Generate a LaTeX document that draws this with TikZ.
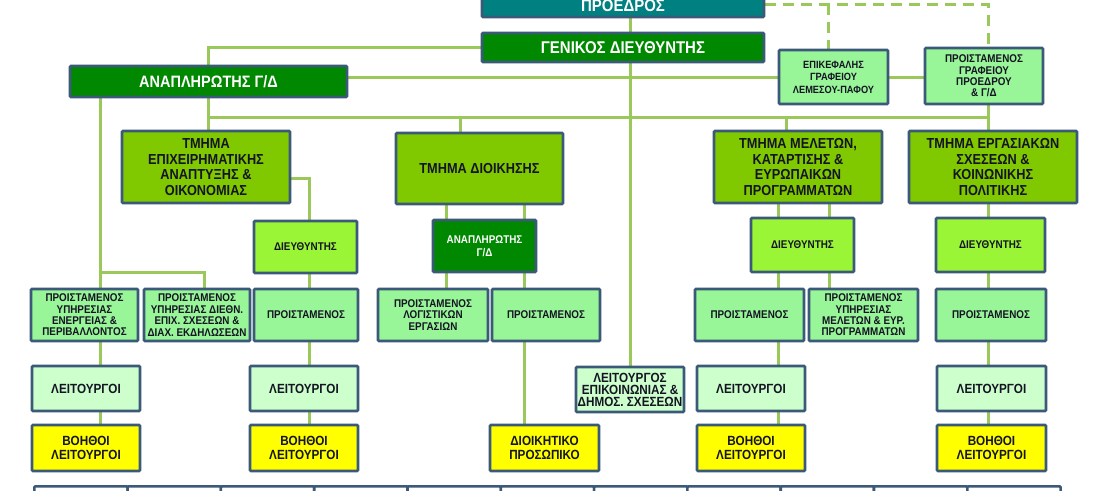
\documentclass[tikz,border=0pt]{standalone}
\usepackage{fontspec}
\setmainfont{Liberation Sans}[FakeStretch=0.88]
\usetikzlibrary{backgrounds}
\definecolor{bord}{RGB}{59,89,120}
\definecolor{lnk}{RGB}{155,200,90}
\definecolor{cpres}{RGB}{0,128,128}
\definecolor{cdark}{RGB}{0,136,0}
\definecolor{cdept}{RGB}{128,200,0}
\definecolor{cdir}{RGB}{155,245,55}
\definecolor{clight}{RGB}{152,245,152}
\definecolor{cpale}{RGB}{204,255,204}
\definecolor{cyel}{RGB}{255,255,0}
\definecolor{txt}{RGB}{20,20,35}
\newcommand{\setfs}[2]{\fontsize{#1}{#2}\selectfont}
\newcommand{\bxat}[7]{\node[bx,#6,minimum width={(#4)-(#2)},minimum height={(#5)-(#3)}] (#1) at ({((#2)+(#4))/2},{((#3)+(#5))/2}) {#7};}
\tikzset{
  bx/.style={draw=bord, line width=2.6pt, rounded corners=1pt, inner sep=0pt, align=center, text=txt},
  fpres/.style={fill=cpres, text=white, font=\setfs{17}{18}\bfseries},
  fgd/.style={fill=cdark, text=white, font=\setfs{17}{18}\bfseries},
  fan/.style={fill=cdark, text=white, font=\setfs{16.5}{18}\bfseries},
  fan2/.style={fill=cdark, text=white, font=\setfs{11.2}{12.7}\bfseries},
  fdept/.style={fill=cdept, font=\setfs{14.5}{15.5}\bfseries},
  fdir/.style={fill=cdir, font=\setfs{11.2}{11.6}\bfseries},
  flight/.style={fill=clight, font=\setfs{11.2}{11.4}\bfseries},
  fep/.style={fill=clight, font=\setfs{10.5}{12.5}\bfseries},
  fpale/.style={fill=cpale, font=\setfs{13.3}{14.6}\bfseries},
  flep/.style={fill=cpale, font=\setfs{13.3}{12}\bfseries},
  fyel/.style={fill=cyel, font=\setfs{13.3}{14.6}\bfseries},
  conn/.style={draw=lnk, line width=3pt},
  dashconn/.style={conn, dash pattern=on 11pt off 7pt},
}
\begin{document}
\begin{tikzpicture}[x=1pt,y=-1pt]
\useasboundingbox (0,0) rectangle (1100,490);
\clip (0,0) rectangle (1100,490);
% top
\bxat{pr}{482}{-6}{764}{17}{fpres}{ΠΡΟΕΔΡΟΣ}
\bxat{gd}{482}{33}{764}{62}{fgd}{ΓΕΝΙΚΟΣ ΔΙΕΥΘΥΝΤΗΣ}
\bxat{an1}{70}{66}{347}{97}{fan}{ΑΝΑΠΛΗΡΩΤΗΣ Γ/Δ}
\bxat{ep}{779}{50}{888}{104}{fep}{ΕΠΙΚΕΦΑΛΗΣ\\ΓΡΑΦΕΙΟΥ\\ΛΕΜΕΣΟΥ-ΠΑΦΟΥ}
\bxat{pgr}{925}{48}{1043}{104}{flight}{ΠΡΟΙΣΤΑΜΕΝΟΣ\\ΓΡΑΦΕΙΟΥ\\ΠΡΟΕΔΡΟΥ\\\& Γ/Δ}
% departments
\bxat{tm1}{122}{131}{290}{203}{fdept}{ΤΜΗΜΑ\\ΕΠΙΧΕΙΡΗΜΑΤΙΚΗΣ\\ΑΝΑΠΤΥΞΗΣ \&\\ΟΙΚΟΝΟΜΙΑΣ}
\bxat{tm2}{396}{133}{563}{204}{fdept}{ΤΜΗΜΑ ΔΙΟΙΚΗΣΗΣ}
\bxat{tm3}{714}{131}{882}{203}{fdept}{ΤΜΗΜΑ ΜΕΛΕΤΩΝ,\\ΚΑΤΑΡΤΙΣΗΣ \&\\ΕΥΡΩΠΑΙΚΩΝ\\ΠΡΟΓΡΑΜΜΑΤΩΝ}
\bxat{tm4}{909}{131}{1077}{203}{fdept}{ΤΜΗΜΑ ΕΡΓΑΣΙΑΚΩΝ\\ΣΧΕΣΕΩΝ \&\\ΚΟΙΝΩΝΙΚΗΣ\\ΠΟΛΙΤΙΚΗΣ}
% directors
\bxat{d1}{254}{221}{357}{273}{fdir}{ΔΙΕΥΘΥΝΤΗΣ}
\bxat{an2}{433}{220}{536}{272}{fan2}{ΑΝΑΠΛΗΡΩΤΗΣ\\Γ/Δ}
\bxat{d3}{751}{218}{854}{272}{fdir}{ΔΙΕΥΘΥΝΤΗΣ}
\bxat{d4}{936}{218}{1045}{272}{fdir}{ΔΙΕΥΘΥΝΤΗΣ}
% heads
\bxat{pe}{31}{289}{138}{341}{flight}{ΠΡΟΙΣΤΑΜΕΝΟΣ\\ΥΠΗΡΕΣΙΑΣ\\ΕΝΕΡΓΕΙΑΣ \&\\ΠΕΡΙΒΑΛΛΟΝΤΟΣ}
\bxat{pd}{144}{289}{250}{341}{flight}{ΠΡΟΙΣΤΑΜΕΝΟΣ\\ΥΠΗΡΕΣΙΑΣ ΔΙΕΘΝ.\\ΕΠΙΧ. ΣΧΕΣΕΩΝ \&\\ΔΙΑΧ. ΕΚΔΗΛΩΣΕΩΝ}
\bxat{p1}{254}{289}{358}{341}{flight}{ΠΡΟΙΣΤΑΜΕΝΟΣ}
\bxat{pl}{378}{289}{488}{341}{flight}{ΠΡΟΙΣΤΑΜΕΝΟΣ\\ΛΟΓΙΣΤΙΚΩΝ\\ΕΡΓΑΣΙΩΝ}
\bxat{pm}{492}{289}{600}{341}{flight}{ΠΡΟΙΣΤΑΜΕΝΟΣ}
\bxat{p3}{695}{289}{804}{341}{flight}{ΠΡΟΙΣΤΑΜΕΝΟΣ}
\bxat{pu3}{809}{289}{918}{341}{flight}{ΠΡΟΙΣΤΑΜΕΝΟΣ\\ΥΠΗΡΕΣΙΑΣ\\ΜΕΛΕΤΩΝ \& ΕΥΡ.\\ΠΡΟΓΡΑΜΜΑΤΩΝ}
\bxat{p4}{936}{289}{1046}{341}{flight}{ΠΡΟΙΣΤΑΜΕΝΟΣ}
% officers
\bxat{l1}{32}{366}{140}{411}{fpale}{ΛΕΙΤΟΥΡΓΟΙ}
\bxat{l2}{250}{366}{358}{411}{fpale}{ΛΕΙΤΟΥΡΓΟΙ}
\bxat{lep}{576}{367}{684}{412}{flep}{ΛΕΙΤΟΥΡΓΟΣ\\ΕΠΙΚΟΙΝΩΝΙΑΣ \&\\ΔΗΜΟΣ. ΣΧΕΣΕΩΝ}
\bxat{l3}{697}{366}{805}{411}{fpale}{ΛΕΙΤΟΥΡΓΟΙ}
\bxat{l4}{937}{366}{1046}{411}{fpale}{ΛΕΙΤΟΥΡΓΟΙ}
% assistants
\bxat{b1}{32}{425}{140}{471}{fyel}{ΒΟΗΘΟΙ\\ΛΕΙΤΟΥΡΓΟΙ}
\bxat{b2}{250}{425}{358}{471}{fyel}{ΒΟΗΘΟΙ\\ΛΕΙΤΟΥΡΓΟΙ}
\bxat{dp}{490}{425}{599}{471}{fyel}{ΔΙΟΙΚΗΤΙΚΟ\\ΠΡΟΣΩΠΙΚΟ}
\bxat{b3}{697}{425}{805}{471}{fyel}{ΒΟΗΘΟΙ\\ΛΕΙΤΟΥΡΓΟΙ}
\bxat{b4}{937}{425}{1046}{471}{fyel}{ΒΟΗΘΟΙ\\ΛΕΙΤΟΥΡΓΟΙ}
% bottom row (cut off)
\foreach \i in {0,...,10} {
  \node[bx, fill=white, minimum width=93.3, minimum height=30, anchor=north west] (bot\i) at ({33+93.3*\i},485) {};
}
\begin{pgfonlayer}{background}
\fill[white] (0,0) rectangle (1100,490);
\coordinate (xR) at (988,0);
\coordinate (xM) at (828,0);
\coordinate (dY) at (0,4);
\coordinate (hb) at (0,117);
\coordinate (t2) at (460,0);
\coordinate (t3) at (786,0);
\coordinate (v1) at (100,272);
\coordinate (v2) at (204,272);
\coordinate (x1) at (309,178);
\coordinate (ca) at (446,0);
\coordinate (cb) at (524,0);
\coordinate (cc) at (778,0);
\coordinate (cd) at (829,0);
% spine
\draw[conn] (pr.south -| lep.north) -- (lep.north);
\draw[conn] (gd.west) -| (an1.north);
\draw[conn] (an1.east |- ep.west) -- (ep.west);
\draw[conn] (ep.east) -- (ep.east -| pgr.west);
% dashed links
\draw[dashconn] (pr.east |- dY) -- (xR |- dY) -- (xR |- pgr.north);
\draw[dashconn] (xM |- dY) -- (xM |- ep.north);
% bus to departments
\draw[conn] (an1.south) -- (an1.south |- tm1.north);
\draw[conn] (an1.south |- hb) -- (hb -| xR);
\draw[conn] (pgr.south -| xR) -- (tm4.north -| xR);
\draw[conn] (hb -| t2) -- (tm2.north -| t2);
\draw[conn] (hb -| t3) -- (tm3.north -| t3);
% left branch
\draw[conn] (an1.south -| v1) -- (pe.north -| v1);
\draw[conn] (v1) -- (v2) -- (pd.north -| v2);
\draw[conn] (pe.south -| v1) -- (l1.north -| v1);
\draw[conn] (l1.south -| v1) -- (b1.north -| v1);
% department 1
\draw[conn] (tm1.east |- x1) -- (x1) -- (d1.north -| x1);
\draw[conn] (d1.south -| x1) -- (p1.north -| x1);
\draw[conn] (p1.south -| x1) -- (l2.north -| x1);
\draw[conn] (l2.south -| x1) -- (b2.north -| x1);
% department 2
\draw[conn] (tm2.south -| ca) -- (pl.north -| ca);
\draw[conn] (tm2.south -| cb) -- (pm.north -| cb);
\draw[conn] (pm.south -| cb) -- (dp.north -| cb);
% department 3
\draw[conn] (tm3.south -| cc) -- (p3.north -| cc);
\draw[conn] (tm3.south -| cd) -- (pu3.north -| cd);
\draw[conn] (p3.south -| cc) -- (l3.north -| cc);
\draw[conn] (l3.south -| cc) -- (b3.north -| cc);
% department 4
\draw[conn] (tm4.south -| xR) -- (b4.north -| xR);
\end{pgfonlayer}
\end{tikzpicture}
\end{document}
